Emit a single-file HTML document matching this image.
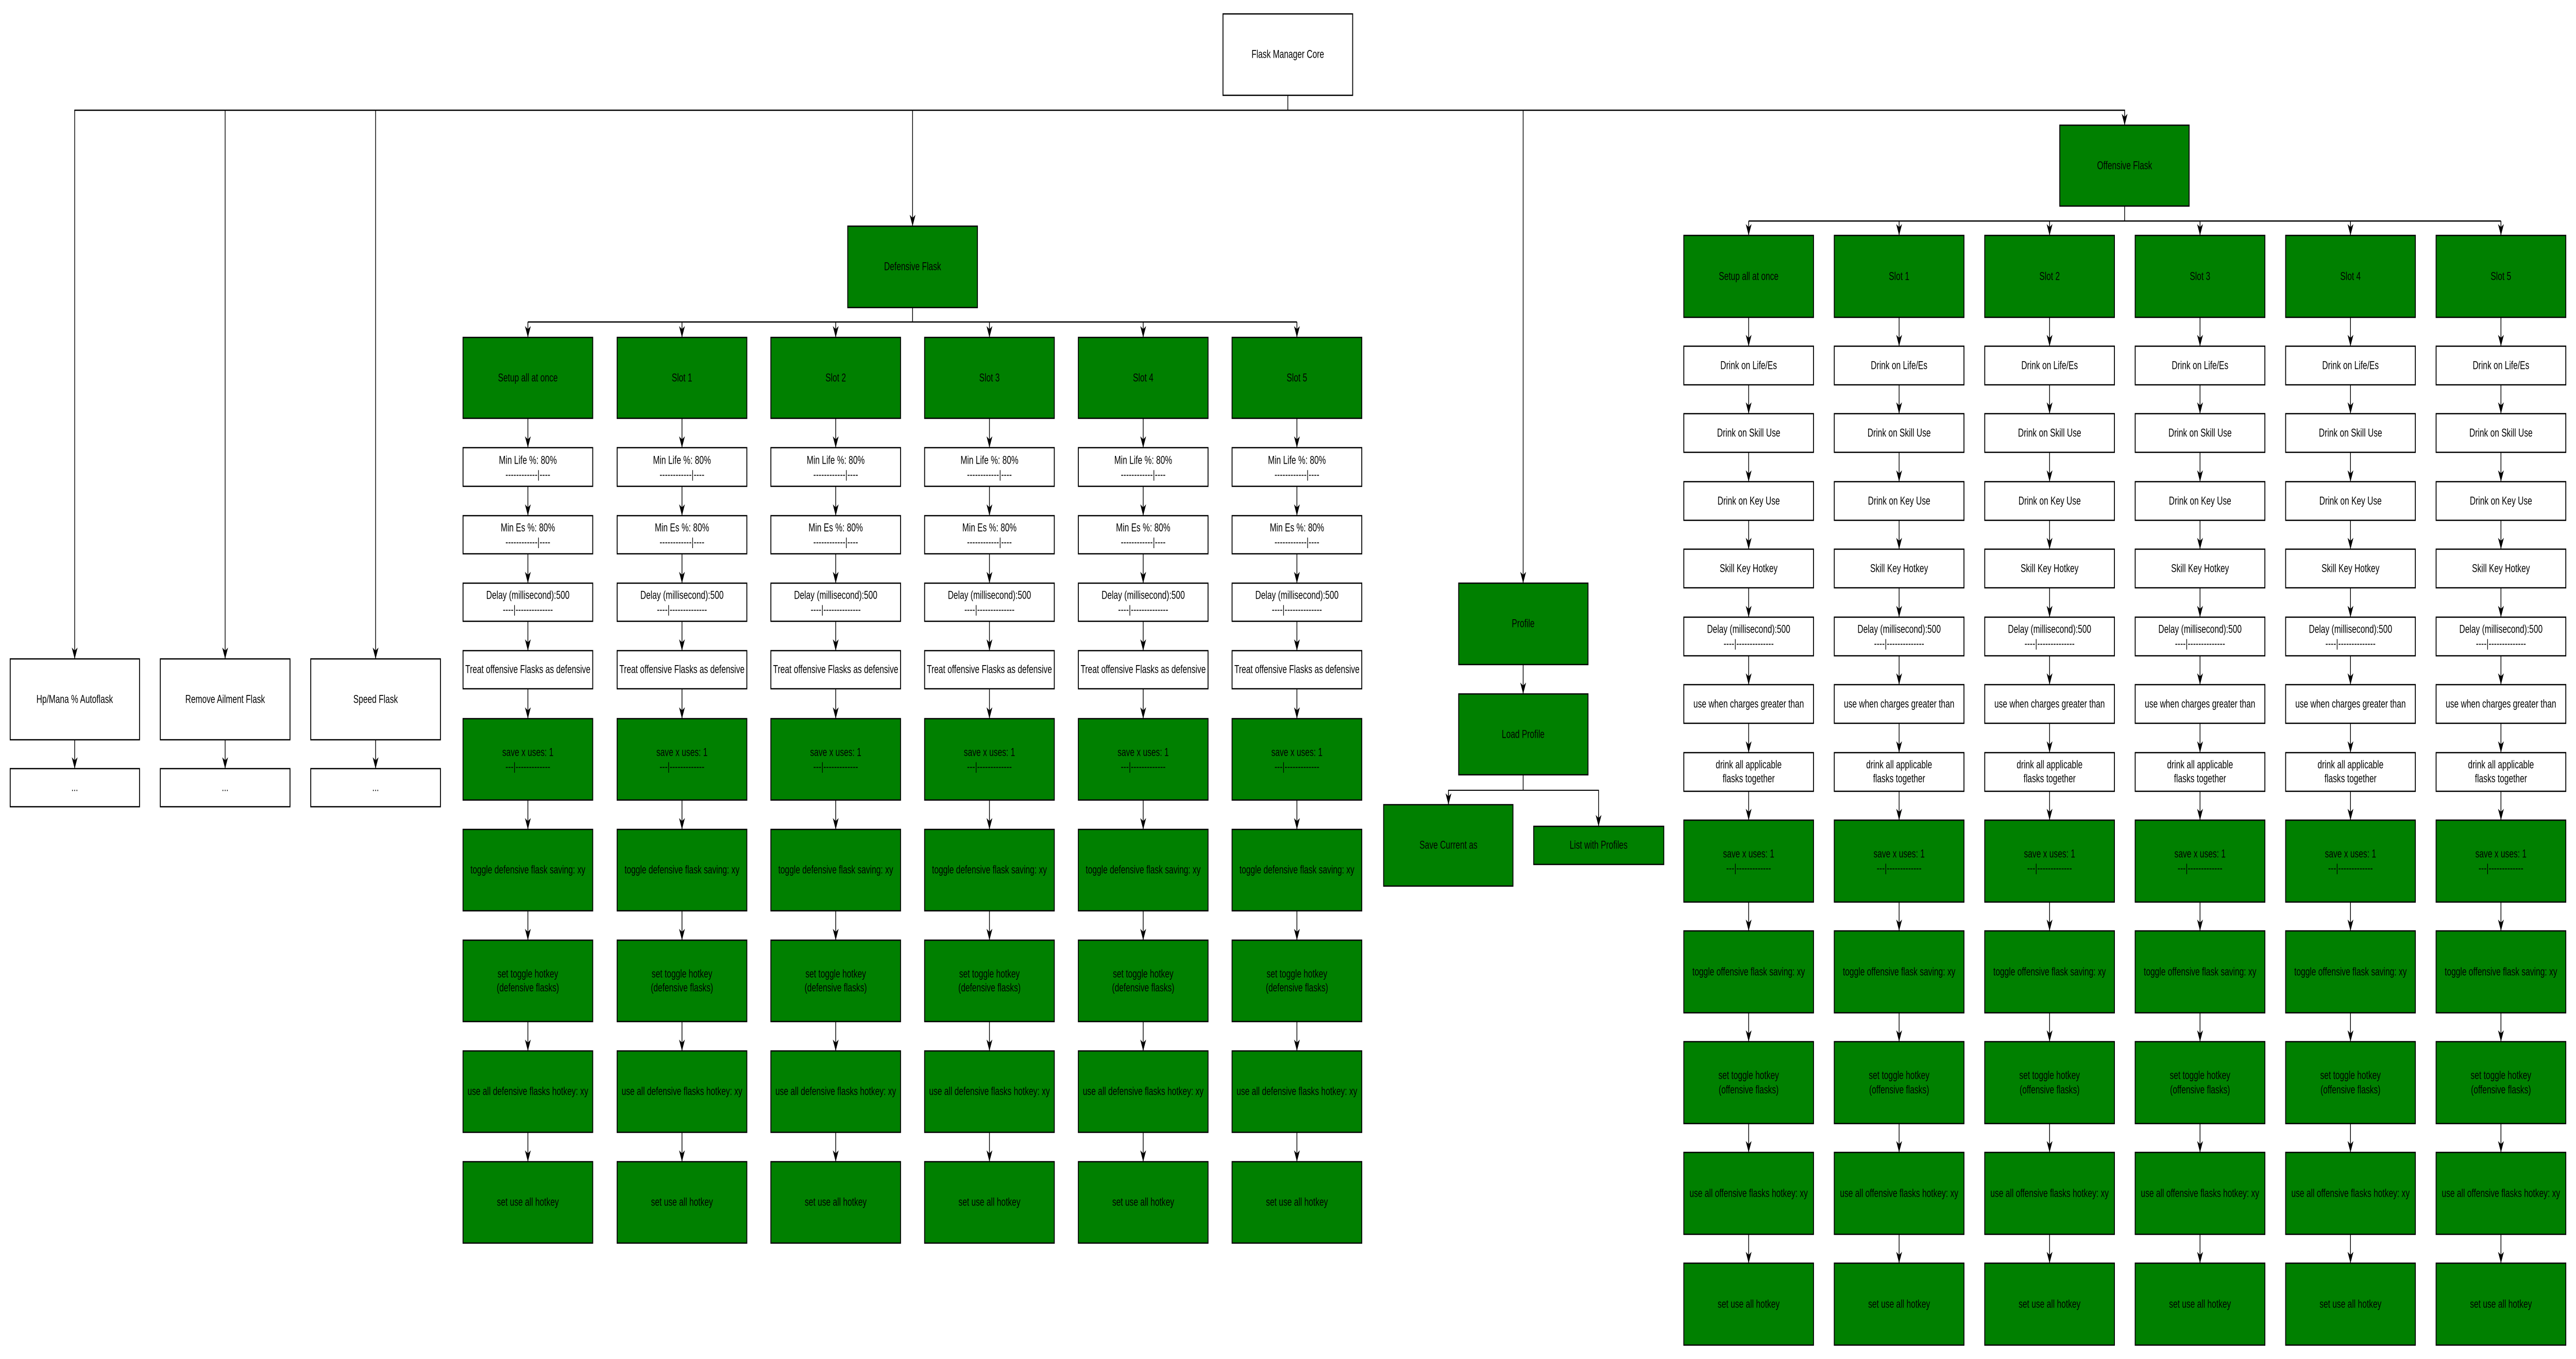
<!DOCTYPE html>
<html><head><meta charset="utf-8">
<style>
html,body{margin:0;padding:0;background:#fff;overflow:hidden;width:100%;height:100%;}
svg{display:block;width:100vw;height:100vh;}
text{font-family:"Liberation Sans",Arial,sans-serif;font-size:22px;fill:#000;}
</style></head>
<body>
<svg viewBox="0 0 7071 2638" preserveAspectRatio="none" xmlns="http://www.w3.org/2000/svg">
<defs>
<marker id="a" markerUnits="userSpaceOnUse" markerWidth="24" markerHeight="18" refX="22" refY="8" orient="auto" viewBox="-1 -1 24 18">
<path d="M0,0 L22,8 L0,16 L6,8 Z" fill="#000"/>
</marker>
<style>
.b{stroke:#000;stroke-width:2.5;}
.g{fill:#008000;}
.w{fill:#fff;}
.l{stroke:#000;stroke-width:2;fill:none;}
.l2{stroke:#000;stroke-width:2.5;fill:none;}
</style>
</defs>

<!-- Core -->
<rect x="3357" y="27" width="356" height="158" class="b w"/>
<text x="3535" y="106" text-anchor="middle" dominant-baseline="central">Flask Manager Core</text>
<line x1="3535" y1="185" x2="3535" y2="214" class="l"/>
<polyline points="204,214 5833,214" class="l2"/>
<line x1="205" y1="214" x2="205" y2="1279" class="l" marker-end="url(#a)"/>
<line x1="618" y1="214" x2="618" y2="1279" class="l" marker-end="url(#a)"/>
<line x1="1031" y1="214" x2="1031" y2="1279" class="l" marker-end="url(#a)"/>
<line x1="2505" y1="214" x2="2505" y2="439" class="l" marker-end="url(#a)"/>
<line x1="4181" y1="214" x2="4181" y2="1132" class="l" marker-end="url(#a)"/>
<line x1="5832" y1="213" x2="5832" y2="243" class="l" marker-end="url(#a)"/>

<!-- Left three -->
<rect x="28" y="1279" width="355" height="157" class="b w"/>
<text x="205" y="1358" text-anchor="middle" dominant-baseline="central">Hp/Mana % Autoflask</text>
<line x1="205" y1="1436" x2="205" y2="1492" class="l" marker-end="url(#a)"/>
<rect x="28" y="1492" width="355" height="74" class="b w"/>
<text x="205" y="1529" text-anchor="middle" dominant-baseline="central">...</text>

<rect x="440" y="1279" width="356" height="157" class="b w"/>
<text x="618" y="1358" text-anchor="middle" dominant-baseline="central">Remove Ailment Flask</text>
<line x1="618" y1="1436" x2="618" y2="1492" class="l" marker-end="url(#a)"/>
<rect x="440" y="1492" width="356" height="74" class="b w"/>
<text x="618" y="1529" text-anchor="middle" dominant-baseline="central">...</text>

<rect x="853" y="1279" width="356" height="157" class="b w"/>
<text x="1031" y="1358" text-anchor="middle" dominant-baseline="central">Speed Flask</text>
<line x1="1031" y1="1436" x2="1031" y2="1492" class="l" marker-end="url(#a)"/>
<rect x="853" y="1492" width="356" height="74" class="b w"/>
<text x="1031" y="1529" text-anchor="middle" dominant-baseline="central">...</text>

<!-- Defensive -->
<rect x="2327" y="439" width="356" height="158" class="b g"/>
<text x="2505" y="518" text-anchor="middle" dominant-baseline="central">Defensive Flask</text>
<line x1="2505" y1="597" x2="2505" y2="625" class="l"/>
<polyline points="1449,625 3560,625" class="l2"/>
<line x1="1449" y1="625" x2="1449" y2="655" class="l" marker-end="url(#a)"/>
<line x1="1872" y1="625" x2="1872" y2="655" class="l" marker-end="url(#a)"/>
<line x1="2294" y1="625" x2="2294" y2="655" class="l" marker-end="url(#a)"/>
<line x1="2716" y1="625" x2="2716" y2="655" class="l" marker-end="url(#a)"/>
<line x1="3138" y1="625" x2="3138" y2="655" class="l" marker-end="url(#a)"/>
<line x1="3560" y1="625" x2="3560" y2="655" class="l" marker-end="url(#a)"/>

<g transform="translate(1271,0)">
<rect x="0" y="655" width="356" height="157" class="b g"/><text x="178" y="734" text-anchor="middle" dominant-baseline="central">Setup all at once</text>
<line x1="178" y1="812" x2="178" y2="869" class="l" marker-end="url(#a)"/>
<rect x="0" y="869" width="356" height="75" class="b w"/><text x="178" y="894" text-anchor="middle" dominant-baseline="central">Min Life %: 80%</text><text x="178" y="922" text-anchor="middle" dominant-baseline="central">------------|----</text>
<line x1="178" y1="944" x2="178" y2="1001" class="l" marker-end="url(#a)"/>
<rect x="0" y="1001" width="356" height="74" class="b w"/><text x="178" y="1025" text-anchor="middle" dominant-baseline="central">Min Es %: 80%</text><text x="178" y="1053" text-anchor="middle" dominant-baseline="central">------------|----</text>
<line x1="178" y1="1075" x2="178" y2="1132" class="l" marker-end="url(#a)"/>
<rect x="0" y="1132" width="356" height="74" class="b w"/><text x="178" y="1156" text-anchor="middle" dominant-baseline="central">Delay (millisecond):500</text><text x="178" y="1184" text-anchor="middle" dominant-baseline="central">----|--------------</text>
<line x1="178" y1="1206" x2="178" y2="1263" class="l" marker-end="url(#a)"/>
<rect x="0" y="1263" width="356" height="74" class="b w"/><text x="178" y="1300" text-anchor="middle" dominant-baseline="central">Treat offensive Flasks as defensive</text>
<line x1="178" y1="1337" x2="178" y2="1395" class="l" marker-end="url(#a)"/>
<rect x="0" y="1395" width="356" height="158" class="b g"/><text x="178" y="1461" text-anchor="middle" dominant-baseline="central">save x uses: 1</text><text x="178" y="1489" text-anchor="middle" dominant-baseline="central">---|-------------</text>
<line x1="178" y1="1553" x2="178" y2="1610" class="l" marker-end="url(#a)"/>
<rect x="0" y="1610" width="356" height="158" class="b g"/><text x="178" y="1689" text-anchor="middle" dominant-baseline="central">toggle defensive flask saving: xy</text>
<line x1="178" y1="1768" x2="178" y2="1825" class="l" marker-end="url(#a)"/>
<rect x="0" y="1825" width="356" height="158" class="b g"/><text x="178" y="1891" text-anchor="middle" dominant-baseline="central">set toggle hotkey</text><text x="178" y="1918" text-anchor="middle" dominant-baseline="central">(defensive flasks)</text>
<line x1="178" y1="1983" x2="178" y2="2040" class="l" marker-end="url(#a)"/>
<rect x="0" y="2040" width="356" height="158" class="b g"/><text x="178" y="2119" text-anchor="middle" dominant-baseline="central">use all defensive flasks hotkey: xy</text>
<line x1="178" y1="2198" x2="178" y2="2255" class="l" marker-end="url(#a)"/>
<rect x="0" y="2255" width="356" height="158" class="b g"/><text x="178" y="2334" text-anchor="middle" dominant-baseline="central">set use all hotkey</text>
</g>

<g transform="translate(1694,0)">
<rect x="0" y="655" width="356" height="157" class="b g"/><text x="178" y="734" text-anchor="middle" dominant-baseline="central">Slot 1</text>
<line x1="178" y1="812" x2="178" y2="869" class="l" marker-end="url(#a)"/>
<rect x="0" y="869" width="356" height="75" class="b w"/><text x="178" y="894" text-anchor="middle" dominant-baseline="central">Min Life %: 80%</text><text x="178" y="922" text-anchor="middle" dominant-baseline="central">------------|----</text>
<line x1="178" y1="944" x2="178" y2="1001" class="l" marker-end="url(#a)"/>
<rect x="0" y="1001" width="356" height="74" class="b w"/><text x="178" y="1025" text-anchor="middle" dominant-baseline="central">Min Es %: 80%</text><text x="178" y="1053" text-anchor="middle" dominant-baseline="central">------------|----</text>
<line x1="178" y1="1075" x2="178" y2="1132" class="l" marker-end="url(#a)"/>
<rect x="0" y="1132" width="356" height="74" class="b w"/><text x="178" y="1156" text-anchor="middle" dominant-baseline="central">Delay (millisecond):500</text><text x="178" y="1184" text-anchor="middle" dominant-baseline="central">----|--------------</text>
<line x1="178" y1="1206" x2="178" y2="1263" class="l" marker-end="url(#a)"/>
<rect x="0" y="1263" width="356" height="74" class="b w"/><text x="178" y="1300" text-anchor="middle" dominant-baseline="central">Treat offensive Flasks as defensive</text>
<line x1="178" y1="1337" x2="178" y2="1395" class="l" marker-end="url(#a)"/>
<rect x="0" y="1395" width="356" height="158" class="b g"/><text x="178" y="1461" text-anchor="middle" dominant-baseline="central">save x uses: 1</text><text x="178" y="1489" text-anchor="middle" dominant-baseline="central">---|-------------</text>
<line x1="178" y1="1553" x2="178" y2="1610" class="l" marker-end="url(#a)"/>
<rect x="0" y="1610" width="356" height="158" class="b g"/><text x="178" y="1689" text-anchor="middle" dominant-baseline="central">toggle defensive flask saving: xy</text>
<line x1="178" y1="1768" x2="178" y2="1825" class="l" marker-end="url(#a)"/>
<rect x="0" y="1825" width="356" height="158" class="b g"/><text x="178" y="1891" text-anchor="middle" dominant-baseline="central">set toggle hotkey</text><text x="178" y="1918" text-anchor="middle" dominant-baseline="central">(defensive flasks)</text>
<line x1="178" y1="1983" x2="178" y2="2040" class="l" marker-end="url(#a)"/>
<rect x="0" y="2040" width="356" height="158" class="b g"/><text x="178" y="2119" text-anchor="middle" dominant-baseline="central">use all defensive flasks hotkey: xy</text>
<line x1="178" y1="2198" x2="178" y2="2255" class="l" marker-end="url(#a)"/>
<rect x="0" y="2255" width="356" height="158" class="b g"/><text x="178" y="2334" text-anchor="middle" dominant-baseline="central">set use all hotkey</text>
</g>

<g transform="translate(2116,0)">
<rect x="0" y="655" width="356" height="157" class="b g"/><text x="178" y="734" text-anchor="middle" dominant-baseline="central">Slot 2</text>
<line x1="178" y1="812" x2="178" y2="869" class="l" marker-end="url(#a)"/>
<rect x="0" y="869" width="356" height="75" class="b w"/><text x="178" y="894" text-anchor="middle" dominant-baseline="central">Min Life %: 80%</text><text x="178" y="922" text-anchor="middle" dominant-baseline="central">------------|----</text>
<line x1="178" y1="944" x2="178" y2="1001" class="l" marker-end="url(#a)"/>
<rect x="0" y="1001" width="356" height="74" class="b w"/><text x="178" y="1025" text-anchor="middle" dominant-baseline="central">Min Es %: 80%</text><text x="178" y="1053" text-anchor="middle" dominant-baseline="central">------------|----</text>
<line x1="178" y1="1075" x2="178" y2="1132" class="l" marker-end="url(#a)"/>
<rect x="0" y="1132" width="356" height="74" class="b w"/><text x="178" y="1156" text-anchor="middle" dominant-baseline="central">Delay (millisecond):500</text><text x="178" y="1184" text-anchor="middle" dominant-baseline="central">----|--------------</text>
<line x1="178" y1="1206" x2="178" y2="1263" class="l" marker-end="url(#a)"/>
<rect x="0" y="1263" width="356" height="74" class="b w"/><text x="178" y="1300" text-anchor="middle" dominant-baseline="central">Treat offensive Flasks as defensive</text>
<line x1="178" y1="1337" x2="178" y2="1395" class="l" marker-end="url(#a)"/>
<rect x="0" y="1395" width="356" height="158" class="b g"/><text x="178" y="1461" text-anchor="middle" dominant-baseline="central">save x uses: 1</text><text x="178" y="1489" text-anchor="middle" dominant-baseline="central">---|-------------</text>
<line x1="178" y1="1553" x2="178" y2="1610" class="l" marker-end="url(#a)"/>
<rect x="0" y="1610" width="356" height="158" class="b g"/><text x="178" y="1689" text-anchor="middle" dominant-baseline="central">toggle defensive flask saving: xy</text>
<line x1="178" y1="1768" x2="178" y2="1825" class="l" marker-end="url(#a)"/>
<rect x="0" y="1825" width="356" height="158" class="b g"/><text x="178" y="1891" text-anchor="middle" dominant-baseline="central">set toggle hotkey</text><text x="178" y="1918" text-anchor="middle" dominant-baseline="central">(defensive flasks)</text>
<line x1="178" y1="1983" x2="178" y2="2040" class="l" marker-end="url(#a)"/>
<rect x="0" y="2040" width="356" height="158" class="b g"/><text x="178" y="2119" text-anchor="middle" dominant-baseline="central">use all defensive flasks hotkey: xy</text>
<line x1="178" y1="2198" x2="178" y2="2255" class="l" marker-end="url(#a)"/>
<rect x="0" y="2255" width="356" height="158" class="b g"/><text x="178" y="2334" text-anchor="middle" dominant-baseline="central">set use all hotkey</text>
</g>

<g transform="translate(2538,0)">
<rect x="0" y="655" width="356" height="157" class="b g"/><text x="178" y="734" text-anchor="middle" dominant-baseline="central">Slot 3</text>
<line x1="178" y1="812" x2="178" y2="869" class="l" marker-end="url(#a)"/>
<rect x="0" y="869" width="356" height="75" class="b w"/><text x="178" y="894" text-anchor="middle" dominant-baseline="central">Min Life %: 80%</text><text x="178" y="922" text-anchor="middle" dominant-baseline="central">------------|----</text>
<line x1="178" y1="944" x2="178" y2="1001" class="l" marker-end="url(#a)"/>
<rect x="0" y="1001" width="356" height="74" class="b w"/><text x="178" y="1025" text-anchor="middle" dominant-baseline="central">Min Es %: 80%</text><text x="178" y="1053" text-anchor="middle" dominant-baseline="central">------------|----</text>
<line x1="178" y1="1075" x2="178" y2="1132" class="l" marker-end="url(#a)"/>
<rect x="0" y="1132" width="356" height="74" class="b w"/><text x="178" y="1156" text-anchor="middle" dominant-baseline="central">Delay (millisecond):500</text><text x="178" y="1184" text-anchor="middle" dominant-baseline="central">----|--------------</text>
<line x1="178" y1="1206" x2="178" y2="1263" class="l" marker-end="url(#a)"/>
<rect x="0" y="1263" width="356" height="74" class="b w"/><text x="178" y="1300" text-anchor="middle" dominant-baseline="central">Treat offensive Flasks as defensive</text>
<line x1="178" y1="1337" x2="178" y2="1395" class="l" marker-end="url(#a)"/>
<rect x="0" y="1395" width="356" height="158" class="b g"/><text x="178" y="1461" text-anchor="middle" dominant-baseline="central">save x uses: 1</text><text x="178" y="1489" text-anchor="middle" dominant-baseline="central">---|-------------</text>
<line x1="178" y1="1553" x2="178" y2="1610" class="l" marker-end="url(#a)"/>
<rect x="0" y="1610" width="356" height="158" class="b g"/><text x="178" y="1689" text-anchor="middle" dominant-baseline="central">toggle defensive flask saving: xy</text>
<line x1="178" y1="1768" x2="178" y2="1825" class="l" marker-end="url(#a)"/>
<rect x="0" y="1825" width="356" height="158" class="b g"/><text x="178" y="1891" text-anchor="middle" dominant-baseline="central">set toggle hotkey</text><text x="178" y="1918" text-anchor="middle" dominant-baseline="central">(defensive flasks)</text>
<line x1="178" y1="1983" x2="178" y2="2040" class="l" marker-end="url(#a)"/>
<rect x="0" y="2040" width="356" height="158" class="b g"/><text x="178" y="2119" text-anchor="middle" dominant-baseline="central">use all defensive flasks hotkey: xy</text>
<line x1="178" y1="2198" x2="178" y2="2255" class="l" marker-end="url(#a)"/>
<rect x="0" y="2255" width="356" height="158" class="b g"/><text x="178" y="2334" text-anchor="middle" dominant-baseline="central">set use all hotkey</text>
</g>

<g transform="translate(2960,0)">
<rect x="0" y="655" width="356" height="157" class="b g"/><text x="178" y="734" text-anchor="middle" dominant-baseline="central">Slot 4</text>
<line x1="178" y1="812" x2="178" y2="869" class="l" marker-end="url(#a)"/>
<rect x="0" y="869" width="356" height="75" class="b w"/><text x="178" y="894" text-anchor="middle" dominant-baseline="central">Min Life %: 80%</text><text x="178" y="922" text-anchor="middle" dominant-baseline="central">------------|----</text>
<line x1="178" y1="944" x2="178" y2="1001" class="l" marker-end="url(#a)"/>
<rect x="0" y="1001" width="356" height="74" class="b w"/><text x="178" y="1025" text-anchor="middle" dominant-baseline="central">Min Es %: 80%</text><text x="178" y="1053" text-anchor="middle" dominant-baseline="central">------------|----</text>
<line x1="178" y1="1075" x2="178" y2="1132" class="l" marker-end="url(#a)"/>
<rect x="0" y="1132" width="356" height="74" class="b w"/><text x="178" y="1156" text-anchor="middle" dominant-baseline="central">Delay (millisecond):500</text><text x="178" y="1184" text-anchor="middle" dominant-baseline="central">----|--------------</text>
<line x1="178" y1="1206" x2="178" y2="1263" class="l" marker-end="url(#a)"/>
<rect x="0" y="1263" width="356" height="74" class="b w"/><text x="178" y="1300" text-anchor="middle" dominant-baseline="central">Treat offensive Flasks as defensive</text>
<line x1="178" y1="1337" x2="178" y2="1395" class="l" marker-end="url(#a)"/>
<rect x="0" y="1395" width="356" height="158" class="b g"/><text x="178" y="1461" text-anchor="middle" dominant-baseline="central">save x uses: 1</text><text x="178" y="1489" text-anchor="middle" dominant-baseline="central">---|-------------</text>
<line x1="178" y1="1553" x2="178" y2="1610" class="l" marker-end="url(#a)"/>
<rect x="0" y="1610" width="356" height="158" class="b g"/><text x="178" y="1689" text-anchor="middle" dominant-baseline="central">toggle defensive flask saving: xy</text>
<line x1="178" y1="1768" x2="178" y2="1825" class="l" marker-end="url(#a)"/>
<rect x="0" y="1825" width="356" height="158" class="b g"/><text x="178" y="1891" text-anchor="middle" dominant-baseline="central">set toggle hotkey</text><text x="178" y="1918" text-anchor="middle" dominant-baseline="central">(defensive flasks)</text>
<line x1="178" y1="1983" x2="178" y2="2040" class="l" marker-end="url(#a)"/>
<rect x="0" y="2040" width="356" height="158" class="b g"/><text x="178" y="2119" text-anchor="middle" dominant-baseline="central">use all defensive flasks hotkey: xy</text>
<line x1="178" y1="2198" x2="178" y2="2255" class="l" marker-end="url(#a)"/>
<rect x="0" y="2255" width="356" height="158" class="b g"/><text x="178" y="2334" text-anchor="middle" dominant-baseline="central">set use all hotkey</text>
</g>

<g transform="translate(3382,0)">
<rect x="0" y="655" width="356" height="157" class="b g"/><text x="178" y="734" text-anchor="middle" dominant-baseline="central">Slot 5</text>
<line x1="178" y1="812" x2="178" y2="869" class="l" marker-end="url(#a)"/>
<rect x="0" y="869" width="356" height="75" class="b w"/><text x="178" y="894" text-anchor="middle" dominant-baseline="central">Min Life %: 80%</text><text x="178" y="922" text-anchor="middle" dominant-baseline="central">------------|----</text>
<line x1="178" y1="944" x2="178" y2="1001" class="l" marker-end="url(#a)"/>
<rect x="0" y="1001" width="356" height="74" class="b w"/><text x="178" y="1025" text-anchor="middle" dominant-baseline="central">Min Es %: 80%</text><text x="178" y="1053" text-anchor="middle" dominant-baseline="central">------------|----</text>
<line x1="178" y1="1075" x2="178" y2="1132" class="l" marker-end="url(#a)"/>
<rect x="0" y="1132" width="356" height="74" class="b w"/><text x="178" y="1156" text-anchor="middle" dominant-baseline="central">Delay (millisecond):500</text><text x="178" y="1184" text-anchor="middle" dominant-baseline="central">----|--------------</text>
<line x1="178" y1="1206" x2="178" y2="1263" class="l" marker-end="url(#a)"/>
<rect x="0" y="1263" width="356" height="74" class="b w"/><text x="178" y="1300" text-anchor="middle" dominant-baseline="central">Treat offensive Flasks as defensive</text>
<line x1="178" y1="1337" x2="178" y2="1395" class="l" marker-end="url(#a)"/>
<rect x="0" y="1395" width="356" height="158" class="b g"/><text x="178" y="1461" text-anchor="middle" dominant-baseline="central">save x uses: 1</text><text x="178" y="1489" text-anchor="middle" dominant-baseline="central">---|-------------</text>
<line x1="178" y1="1553" x2="178" y2="1610" class="l" marker-end="url(#a)"/>
<rect x="0" y="1610" width="356" height="158" class="b g"/><text x="178" y="1689" text-anchor="middle" dominant-baseline="central">toggle defensive flask saving: xy</text>
<line x1="178" y1="1768" x2="178" y2="1825" class="l" marker-end="url(#a)"/>
<rect x="0" y="1825" width="356" height="158" class="b g"/><text x="178" y="1891" text-anchor="middle" dominant-baseline="central">set toggle hotkey</text><text x="178" y="1918" text-anchor="middle" dominant-baseline="central">(defensive flasks)</text>
<line x1="178" y1="1983" x2="178" y2="2040" class="l" marker-end="url(#a)"/>
<rect x="0" y="2040" width="356" height="158" class="b g"/><text x="178" y="2119" text-anchor="middle" dominant-baseline="central">use all defensive flasks hotkey: xy</text>
<line x1="178" y1="2198" x2="178" y2="2255" class="l" marker-end="url(#a)"/>
<rect x="0" y="2255" width="356" height="158" class="b g"/><text x="178" y="2334" text-anchor="middle" dominant-baseline="central">set use all hotkey</text>
</g>

<!-- Profile -->
<rect x="4004" y="1132" width="355" height="158" class="b g"/>
<text x="4181" y="1211" text-anchor="middle" dominant-baseline="central">Profile</text>
<line x1="4181" y1="1290" x2="4181" y2="1347" class="l" marker-end="url(#a)"/>
<rect x="4004" y="1347" width="355" height="157" class="b g"/>
<text x="4181" y="1426" text-anchor="middle" dominant-baseline="central">Load Profile</text>
<line x1="4181" y1="1504" x2="4181" y2="1534" class="l"/>
<polyline points="3976,1562 3976,1534 4388,1534 4388,1604" class="l"/>
<line x1="3976" y1="1540" x2="3976" y2="1562" class="l" marker-end="url(#a)"/>
<line x1="4388" y1="1580" x2="4388" y2="1604" class="l" marker-end="url(#a)"/>
<rect x="3798" y="1562" width="355" height="158" class="b g"/>
<text x="3976" y="1641" text-anchor="middle" dominant-baseline="central">Save Current as</text>
<rect x="4210" y="1604" width="357" height="74" class="b g"/>
<text x="4388" y="1641" text-anchor="middle" dominant-baseline="central">List with Profiles</text>

<!-- Offensive -->
<rect x="5654" y="243" width="355" height="157" class="b g"/>
<text x="5832" y="322" text-anchor="middle" dominant-baseline="central">Offensive Flask</text>
<line x1="5832" y1="400" x2="5832" y2="429" class="l"/>
<polyline points="4800,429 6865,429" class="l2"/>
<line x1="4800" y1="429" x2="4800" y2="457" class="l" marker-end="url(#a)"/>
<line x1="5213" y1="429" x2="5213" y2="457" class="l" marker-end="url(#a)"/>
<line x1="5626" y1="429" x2="5626" y2="457" class="l" marker-end="url(#a)"/>
<line x1="6039" y1="429" x2="6039" y2="457" class="l" marker-end="url(#a)"/>
<line x1="6452" y1="429" x2="6452" y2="457" class="l" marker-end="url(#a)"/>
<line x1="6865" y1="429" x2="6865" y2="457" class="l" marker-end="url(#a)"/>

<g transform="translate(4622,0)">
<rect x="0" y="457" width="356" height="159" class="b g"/><text x="178" y="537" text-anchor="middle" dominant-baseline="central">Setup all at once</text>
<line x1="178" y1="616" x2="178" y2="672" class="l" marker-end="url(#a)"/>
<rect x="0" y="672" width="356" height="75" class="b w"/><text x="178" y="710" text-anchor="middle" dominant-baseline="central">Drink on Life/Es</text>
<line x1="178" y1="747" x2="178" y2="803" class="l" marker-end="url(#a)"/>
<rect x="0" y="803" width="356" height="75" class="b w"/><text x="178" y="841" text-anchor="middle" dominant-baseline="central">Drink on Skill Use</text>
<line x1="178" y1="878" x2="178" y2="935" class="l" marker-end="url(#a)"/>
<rect x="0" y="935" width="356" height="75" class="b w"/><text x="178" y="973" text-anchor="middle" dominant-baseline="central">Drink on Key Use</text>
<line x1="178" y1="1010" x2="178" y2="1066" class="l" marker-end="url(#a)"/>
<rect x="0" y="1066" width="356" height="75" class="b w"/><text x="178" y="1104" text-anchor="middle" dominant-baseline="central">Skill Key Hotkey</text>
<line x1="178" y1="1141" x2="178" y2="1198" class="l" marker-end="url(#a)"/>
<rect x="0" y="1198" width="356" height="75" class="b w"/><text x="178" y="1222" text-anchor="middle" dominant-baseline="central">Delay (millisecond):500</text><text x="178" y="1250" text-anchor="middle" dominant-baseline="central">----|--------------</text>
<line x1="178" y1="1273" x2="178" y2="1329" class="l" marker-end="url(#a)"/>
<rect x="0" y="1329" width="356" height="75" class="b w"/><text x="178" y="1367" text-anchor="middle" dominant-baseline="central">use when charges greater than</text>
<line x1="178" y1="1404" x2="178" y2="1461" class="l" marker-end="url(#a)"/>
<rect x="0" y="1461" width="356" height="75" class="b w"/><text x="178" y="1485" text-anchor="middle" dominant-baseline="central">drink all applicable</text><text x="178" y="1512" text-anchor="middle" dominant-baseline="central">flasks together</text>
<line x1="178" y1="1536" x2="178" y2="1592" class="l" marker-end="url(#a)"/>
<rect x="0" y="1592" width="356" height="159" class="b g"/><text x="178" y="1658" text-anchor="middle" dominant-baseline="central">save x uses: 1</text><text x="178" y="1686" text-anchor="middle" dominant-baseline="central">---|-------------</text>
<line x1="178" y1="1751" x2="178" y2="1807" class="l" marker-end="url(#a)"/>
<rect x="0" y="1807" width="356" height="159" class="b g"/><text x="178" y="1887" text-anchor="middle" dominant-baseline="central">toggle offensive flask saving: xy</text>
<line x1="178" y1="1966" x2="178" y2="2022" class="l" marker-end="url(#a)"/>
<rect x="0" y="2022" width="356" height="159" class="b g"/><text x="178" y="2088" text-anchor="middle" dominant-baseline="central">set toggle hotkey</text><text x="178" y="2116" text-anchor="middle" dominant-baseline="central">(offensive flasks)</text>
<line x1="178" y1="2181" x2="178" y2="2237" class="l" marker-end="url(#a)"/>
<rect x="0" y="2237" width="356" height="159" class="b g"/><text x="178" y="2317" text-anchor="middle" dominant-baseline="central">use all offensive flasks hotkey: xy</text>
<line x1="178" y1="2396" x2="178" y2="2452" class="l" marker-end="url(#a)"/>
<rect x="0" y="2452" width="356" height="159" class="b g"/><text x="178" y="2532" text-anchor="middle" dominant-baseline="central">set use all hotkey</text>
</g>

<g transform="translate(5035,0)">
<rect x="0" y="457" width="356" height="159" class="b g"/><text x="178" y="537" text-anchor="middle" dominant-baseline="central">Slot 1</text>
<line x1="178" y1="616" x2="178" y2="672" class="l" marker-end="url(#a)"/>
<rect x="0" y="672" width="356" height="75" class="b w"/><text x="178" y="710" text-anchor="middle" dominant-baseline="central">Drink on Life/Es</text>
<line x1="178" y1="747" x2="178" y2="803" class="l" marker-end="url(#a)"/>
<rect x="0" y="803" width="356" height="75" class="b w"/><text x="178" y="841" text-anchor="middle" dominant-baseline="central">Drink on Skill Use</text>
<line x1="178" y1="878" x2="178" y2="935" class="l" marker-end="url(#a)"/>
<rect x="0" y="935" width="356" height="75" class="b w"/><text x="178" y="973" text-anchor="middle" dominant-baseline="central">Drink on Key Use</text>
<line x1="178" y1="1010" x2="178" y2="1066" class="l" marker-end="url(#a)"/>
<rect x="0" y="1066" width="356" height="75" class="b w"/><text x="178" y="1104" text-anchor="middle" dominant-baseline="central">Skill Key Hotkey</text>
<line x1="178" y1="1141" x2="178" y2="1198" class="l" marker-end="url(#a)"/>
<rect x="0" y="1198" width="356" height="75" class="b w"/><text x="178" y="1222" text-anchor="middle" dominant-baseline="central">Delay (millisecond):500</text><text x="178" y="1250" text-anchor="middle" dominant-baseline="central">----|--------------</text>
<line x1="178" y1="1273" x2="178" y2="1329" class="l" marker-end="url(#a)"/>
<rect x="0" y="1329" width="356" height="75" class="b w"/><text x="178" y="1367" text-anchor="middle" dominant-baseline="central">use when charges greater than</text>
<line x1="178" y1="1404" x2="178" y2="1461" class="l" marker-end="url(#a)"/>
<rect x="0" y="1461" width="356" height="75" class="b w"/><text x="178" y="1485" text-anchor="middle" dominant-baseline="central">drink all applicable</text><text x="178" y="1512" text-anchor="middle" dominant-baseline="central">flasks together</text>
<line x1="178" y1="1536" x2="178" y2="1592" class="l" marker-end="url(#a)"/>
<rect x="0" y="1592" width="356" height="159" class="b g"/><text x="178" y="1658" text-anchor="middle" dominant-baseline="central">save x uses: 1</text><text x="178" y="1686" text-anchor="middle" dominant-baseline="central">---|-------------</text>
<line x1="178" y1="1751" x2="178" y2="1807" class="l" marker-end="url(#a)"/>
<rect x="0" y="1807" width="356" height="159" class="b g"/><text x="178" y="1887" text-anchor="middle" dominant-baseline="central">toggle offensive flask saving: xy</text>
<line x1="178" y1="1966" x2="178" y2="2022" class="l" marker-end="url(#a)"/>
<rect x="0" y="2022" width="356" height="159" class="b g"/><text x="178" y="2088" text-anchor="middle" dominant-baseline="central">set toggle hotkey</text><text x="178" y="2116" text-anchor="middle" dominant-baseline="central">(offensive flasks)</text>
<line x1="178" y1="2181" x2="178" y2="2237" class="l" marker-end="url(#a)"/>
<rect x="0" y="2237" width="356" height="159" class="b g"/><text x="178" y="2317" text-anchor="middle" dominant-baseline="central">use all offensive flasks hotkey: xy</text>
<line x1="178" y1="2396" x2="178" y2="2452" class="l" marker-end="url(#a)"/>
<rect x="0" y="2452" width="356" height="159" class="b g"/><text x="178" y="2532" text-anchor="middle" dominant-baseline="central">set use all hotkey</text>
</g>

<g transform="translate(5448,0)">
<rect x="0" y="457" width="356" height="159" class="b g"/><text x="178" y="537" text-anchor="middle" dominant-baseline="central">Slot 2</text>
<line x1="178" y1="616" x2="178" y2="672" class="l" marker-end="url(#a)"/>
<rect x="0" y="672" width="356" height="75" class="b w"/><text x="178" y="710" text-anchor="middle" dominant-baseline="central">Drink on Life/Es</text>
<line x1="178" y1="747" x2="178" y2="803" class="l" marker-end="url(#a)"/>
<rect x="0" y="803" width="356" height="75" class="b w"/><text x="178" y="841" text-anchor="middle" dominant-baseline="central">Drink on Skill Use</text>
<line x1="178" y1="878" x2="178" y2="935" class="l" marker-end="url(#a)"/>
<rect x="0" y="935" width="356" height="75" class="b w"/><text x="178" y="973" text-anchor="middle" dominant-baseline="central">Drink on Key Use</text>
<line x1="178" y1="1010" x2="178" y2="1066" class="l" marker-end="url(#a)"/>
<rect x="0" y="1066" width="356" height="75" class="b w"/><text x="178" y="1104" text-anchor="middle" dominant-baseline="central">Skill Key Hotkey</text>
<line x1="178" y1="1141" x2="178" y2="1198" class="l" marker-end="url(#a)"/>
<rect x="0" y="1198" width="356" height="75" class="b w"/><text x="178" y="1222" text-anchor="middle" dominant-baseline="central">Delay (millisecond):500</text><text x="178" y="1250" text-anchor="middle" dominant-baseline="central">----|--------------</text>
<line x1="178" y1="1273" x2="178" y2="1329" class="l" marker-end="url(#a)"/>
<rect x="0" y="1329" width="356" height="75" class="b w"/><text x="178" y="1367" text-anchor="middle" dominant-baseline="central">use when charges greater than</text>
<line x1="178" y1="1404" x2="178" y2="1461" class="l" marker-end="url(#a)"/>
<rect x="0" y="1461" width="356" height="75" class="b w"/><text x="178" y="1485" text-anchor="middle" dominant-baseline="central">drink all applicable</text><text x="178" y="1512" text-anchor="middle" dominant-baseline="central">flasks together</text>
<line x1="178" y1="1536" x2="178" y2="1592" class="l" marker-end="url(#a)"/>
<rect x="0" y="1592" width="356" height="159" class="b g"/><text x="178" y="1658" text-anchor="middle" dominant-baseline="central">save x uses: 1</text><text x="178" y="1686" text-anchor="middle" dominant-baseline="central">---|-------------</text>
<line x1="178" y1="1751" x2="178" y2="1807" class="l" marker-end="url(#a)"/>
<rect x="0" y="1807" width="356" height="159" class="b g"/><text x="178" y="1887" text-anchor="middle" dominant-baseline="central">toggle offensive flask saving: xy</text>
<line x1="178" y1="1966" x2="178" y2="2022" class="l" marker-end="url(#a)"/>
<rect x="0" y="2022" width="356" height="159" class="b g"/><text x="178" y="2088" text-anchor="middle" dominant-baseline="central">set toggle hotkey</text><text x="178" y="2116" text-anchor="middle" dominant-baseline="central">(offensive flasks)</text>
<line x1="178" y1="2181" x2="178" y2="2237" class="l" marker-end="url(#a)"/>
<rect x="0" y="2237" width="356" height="159" class="b g"/><text x="178" y="2317" text-anchor="middle" dominant-baseline="central">use all offensive flasks hotkey: xy</text>
<line x1="178" y1="2396" x2="178" y2="2452" class="l" marker-end="url(#a)"/>
<rect x="0" y="2452" width="356" height="159" class="b g"/><text x="178" y="2532" text-anchor="middle" dominant-baseline="central">set use all hotkey</text>
</g>

<g transform="translate(5861,0)">
<rect x="0" y="457" width="356" height="159" class="b g"/><text x="178" y="537" text-anchor="middle" dominant-baseline="central">Slot 3</text>
<line x1="178" y1="616" x2="178" y2="672" class="l" marker-end="url(#a)"/>
<rect x="0" y="672" width="356" height="75" class="b w"/><text x="178" y="710" text-anchor="middle" dominant-baseline="central">Drink on Life/Es</text>
<line x1="178" y1="747" x2="178" y2="803" class="l" marker-end="url(#a)"/>
<rect x="0" y="803" width="356" height="75" class="b w"/><text x="178" y="841" text-anchor="middle" dominant-baseline="central">Drink on Skill Use</text>
<line x1="178" y1="878" x2="178" y2="935" class="l" marker-end="url(#a)"/>
<rect x="0" y="935" width="356" height="75" class="b w"/><text x="178" y="973" text-anchor="middle" dominant-baseline="central">Drink on Key Use</text>
<line x1="178" y1="1010" x2="178" y2="1066" class="l" marker-end="url(#a)"/>
<rect x="0" y="1066" width="356" height="75" class="b w"/><text x="178" y="1104" text-anchor="middle" dominant-baseline="central">Skill Key Hotkey</text>
<line x1="178" y1="1141" x2="178" y2="1198" class="l" marker-end="url(#a)"/>
<rect x="0" y="1198" width="356" height="75" class="b w"/><text x="178" y="1222" text-anchor="middle" dominant-baseline="central">Delay (millisecond):500</text><text x="178" y="1250" text-anchor="middle" dominant-baseline="central">----|--------------</text>
<line x1="178" y1="1273" x2="178" y2="1329" class="l" marker-end="url(#a)"/>
<rect x="0" y="1329" width="356" height="75" class="b w"/><text x="178" y="1367" text-anchor="middle" dominant-baseline="central">use when charges greater than</text>
<line x1="178" y1="1404" x2="178" y2="1461" class="l" marker-end="url(#a)"/>
<rect x="0" y="1461" width="356" height="75" class="b w"/><text x="178" y="1485" text-anchor="middle" dominant-baseline="central">drink all applicable</text><text x="178" y="1512" text-anchor="middle" dominant-baseline="central">flasks together</text>
<line x1="178" y1="1536" x2="178" y2="1592" class="l" marker-end="url(#a)"/>
<rect x="0" y="1592" width="356" height="159" class="b g"/><text x="178" y="1658" text-anchor="middle" dominant-baseline="central">save x uses: 1</text><text x="178" y="1686" text-anchor="middle" dominant-baseline="central">---|-------------</text>
<line x1="178" y1="1751" x2="178" y2="1807" class="l" marker-end="url(#a)"/>
<rect x="0" y="1807" width="356" height="159" class="b g"/><text x="178" y="1887" text-anchor="middle" dominant-baseline="central">toggle offensive flask saving: xy</text>
<line x1="178" y1="1966" x2="178" y2="2022" class="l" marker-end="url(#a)"/>
<rect x="0" y="2022" width="356" height="159" class="b g"/><text x="178" y="2088" text-anchor="middle" dominant-baseline="central">set toggle hotkey</text><text x="178" y="2116" text-anchor="middle" dominant-baseline="central">(offensive flasks)</text>
<line x1="178" y1="2181" x2="178" y2="2237" class="l" marker-end="url(#a)"/>
<rect x="0" y="2237" width="356" height="159" class="b g"/><text x="178" y="2317" text-anchor="middle" dominant-baseline="central">use all offensive flasks hotkey: xy</text>
<line x1="178" y1="2396" x2="178" y2="2452" class="l" marker-end="url(#a)"/>
<rect x="0" y="2452" width="356" height="159" class="b g"/><text x="178" y="2532" text-anchor="middle" dominant-baseline="central">set use all hotkey</text>
</g>

<g transform="translate(6274,0)">
<rect x="0" y="457" width="356" height="159" class="b g"/><text x="178" y="537" text-anchor="middle" dominant-baseline="central">Slot 4</text>
<line x1="178" y1="616" x2="178" y2="672" class="l" marker-end="url(#a)"/>
<rect x="0" y="672" width="356" height="75" class="b w"/><text x="178" y="710" text-anchor="middle" dominant-baseline="central">Drink on Life/Es</text>
<line x1="178" y1="747" x2="178" y2="803" class="l" marker-end="url(#a)"/>
<rect x="0" y="803" width="356" height="75" class="b w"/><text x="178" y="841" text-anchor="middle" dominant-baseline="central">Drink on Skill Use</text>
<line x1="178" y1="878" x2="178" y2="935" class="l" marker-end="url(#a)"/>
<rect x="0" y="935" width="356" height="75" class="b w"/><text x="178" y="973" text-anchor="middle" dominant-baseline="central">Drink on Key Use</text>
<line x1="178" y1="1010" x2="178" y2="1066" class="l" marker-end="url(#a)"/>
<rect x="0" y="1066" width="356" height="75" class="b w"/><text x="178" y="1104" text-anchor="middle" dominant-baseline="central">Skill Key Hotkey</text>
<line x1="178" y1="1141" x2="178" y2="1198" class="l" marker-end="url(#a)"/>
<rect x="0" y="1198" width="356" height="75" class="b w"/><text x="178" y="1222" text-anchor="middle" dominant-baseline="central">Delay (millisecond):500</text><text x="178" y="1250" text-anchor="middle" dominant-baseline="central">----|--------------</text>
<line x1="178" y1="1273" x2="178" y2="1329" class="l" marker-end="url(#a)"/>
<rect x="0" y="1329" width="356" height="75" class="b w"/><text x="178" y="1367" text-anchor="middle" dominant-baseline="central">use when charges greater than</text>
<line x1="178" y1="1404" x2="178" y2="1461" class="l" marker-end="url(#a)"/>
<rect x="0" y="1461" width="356" height="75" class="b w"/><text x="178" y="1485" text-anchor="middle" dominant-baseline="central">drink all applicable</text><text x="178" y="1512" text-anchor="middle" dominant-baseline="central">flasks together</text>
<line x1="178" y1="1536" x2="178" y2="1592" class="l" marker-end="url(#a)"/>
<rect x="0" y="1592" width="356" height="159" class="b g"/><text x="178" y="1658" text-anchor="middle" dominant-baseline="central">save x uses: 1</text><text x="178" y="1686" text-anchor="middle" dominant-baseline="central">---|-------------</text>
<line x1="178" y1="1751" x2="178" y2="1807" class="l" marker-end="url(#a)"/>
<rect x="0" y="1807" width="356" height="159" class="b g"/><text x="178" y="1887" text-anchor="middle" dominant-baseline="central">toggle offensive flask saving: xy</text>
<line x1="178" y1="1966" x2="178" y2="2022" class="l" marker-end="url(#a)"/>
<rect x="0" y="2022" width="356" height="159" class="b g"/><text x="178" y="2088" text-anchor="middle" dominant-baseline="central">set toggle hotkey</text><text x="178" y="2116" text-anchor="middle" dominant-baseline="central">(offensive flasks)</text>
<line x1="178" y1="2181" x2="178" y2="2237" class="l" marker-end="url(#a)"/>
<rect x="0" y="2237" width="356" height="159" class="b g"/><text x="178" y="2317" text-anchor="middle" dominant-baseline="central">use all offensive flasks hotkey: xy</text>
<line x1="178" y1="2396" x2="178" y2="2452" class="l" marker-end="url(#a)"/>
<rect x="0" y="2452" width="356" height="159" class="b g"/><text x="178" y="2532" text-anchor="middle" dominant-baseline="central">set use all hotkey</text>
</g>

<g transform="translate(6687,0)">
<rect x="0" y="457" width="356" height="159" class="b g"/><text x="178" y="537" text-anchor="middle" dominant-baseline="central">Slot 5</text>
<line x1="178" y1="616" x2="178" y2="672" class="l" marker-end="url(#a)"/>
<rect x="0" y="672" width="356" height="75" class="b w"/><text x="178" y="710" text-anchor="middle" dominant-baseline="central">Drink on Life/Es</text>
<line x1="178" y1="747" x2="178" y2="803" class="l" marker-end="url(#a)"/>
<rect x="0" y="803" width="356" height="75" class="b w"/><text x="178" y="841" text-anchor="middle" dominant-baseline="central">Drink on Skill Use</text>
<line x1="178" y1="878" x2="178" y2="935" class="l" marker-end="url(#a)"/>
<rect x="0" y="935" width="356" height="75" class="b w"/><text x="178" y="973" text-anchor="middle" dominant-baseline="central">Drink on Key Use</text>
<line x1="178" y1="1010" x2="178" y2="1066" class="l" marker-end="url(#a)"/>
<rect x="0" y="1066" width="356" height="75" class="b w"/><text x="178" y="1104" text-anchor="middle" dominant-baseline="central">Skill Key Hotkey</text>
<line x1="178" y1="1141" x2="178" y2="1198" class="l" marker-end="url(#a)"/>
<rect x="0" y="1198" width="356" height="75" class="b w"/><text x="178" y="1222" text-anchor="middle" dominant-baseline="central">Delay (millisecond):500</text><text x="178" y="1250" text-anchor="middle" dominant-baseline="central">----|--------------</text>
<line x1="178" y1="1273" x2="178" y2="1329" class="l" marker-end="url(#a)"/>
<rect x="0" y="1329" width="356" height="75" class="b w"/><text x="178" y="1367" text-anchor="middle" dominant-baseline="central">use when charges greater than</text>
<line x1="178" y1="1404" x2="178" y2="1461" class="l" marker-end="url(#a)"/>
<rect x="0" y="1461" width="356" height="75" class="b w"/><text x="178" y="1485" text-anchor="middle" dominant-baseline="central">drink all applicable</text><text x="178" y="1512" text-anchor="middle" dominant-baseline="central">flasks together</text>
<line x1="178" y1="1536" x2="178" y2="1592" class="l" marker-end="url(#a)"/>
<rect x="0" y="1592" width="356" height="159" class="b g"/><text x="178" y="1658" text-anchor="middle" dominant-baseline="central">save x uses: 1</text><text x="178" y="1686" text-anchor="middle" dominant-baseline="central">---|-------------</text>
<line x1="178" y1="1751" x2="178" y2="1807" class="l" marker-end="url(#a)"/>
<rect x="0" y="1807" width="356" height="159" class="b g"/><text x="178" y="1887" text-anchor="middle" dominant-baseline="central">toggle offensive flask saving: xy</text>
<line x1="178" y1="1966" x2="178" y2="2022" class="l" marker-end="url(#a)"/>
<rect x="0" y="2022" width="356" height="159" class="b g"/><text x="178" y="2088" text-anchor="middle" dominant-baseline="central">set toggle hotkey</text><text x="178" y="2116" text-anchor="middle" dominant-baseline="central">(offensive flasks)</text>
<line x1="178" y1="2181" x2="178" y2="2237" class="l" marker-end="url(#a)"/>
<rect x="0" y="2237" width="356" height="159" class="b g"/><text x="178" y="2317" text-anchor="middle" dominant-baseline="central">use all offensive flasks hotkey: xy</text>
<line x1="178" y1="2396" x2="178" y2="2452" class="l" marker-end="url(#a)"/>
<rect x="0" y="2452" width="356" height="159" class="b g"/><text x="178" y="2532" text-anchor="middle" dominant-baseline="central">set use all hotkey</text>
</g>
</svg>
</body></html>
